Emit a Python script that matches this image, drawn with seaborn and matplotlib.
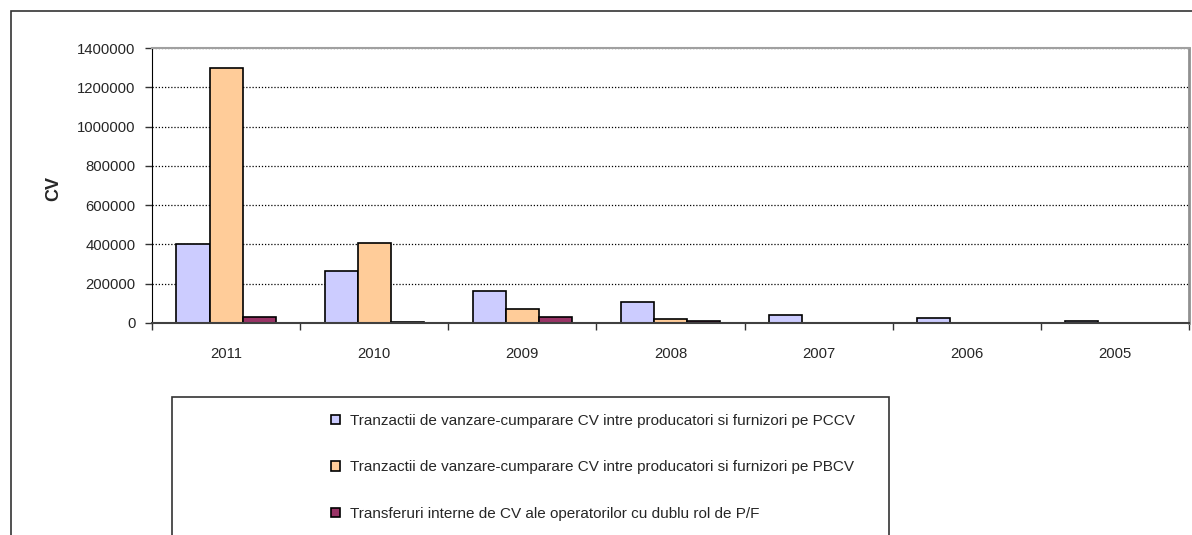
import pandas as pd
import seaborn as sns
import matplotlib.pyplot as plt
from matplotlib import font_manager
from matplotlib.patches import Rectangle
from matplotlib.ticker import FixedLocator, NullFormatter

# data
years = ["2011", "2010", "2009", "2008", "2007", "2006", "2005"]
pccv = [400000, 265000, 163000, 108000, 43000, 24000, 8500]
pbcv = [1300000, 407000, 70000, 22000, 0, 0, 0]
transfer = [31000, 3000, 31000, 8500, 0, 0, 0]
series_names = [
    "Tranzactii de vanzare-cumparare CV intre producatori si furnizori pe PCCV",
    "Tranzactii de vanzare-cumparare CV intre producatori si furnizori pe PBCV",
    "Transferuri interne de CV ale operatorilor cu dublu rol de P/F",
]
colors = ["#CCCCFF", "#FFCC99", "#993366"]

df = pd.DataFrame({
    "an": years * 3,
    "CV": pccv + pbcv + transfer,
    "serie": [series_names[0]] * 7 + [series_names[1]] * 7 + [series_names[2]] * 7,
})

sns.set_style("white")

# the original text looks horizontally squeezed -> narrow font if we have one
installed = {f.name for f in font_manager.fontManager.ttflist}
if "Liberation Sans Narrow" in installed:
    plt.rcParams["font.family"] = ["Liberation Sans Narrow", "DejaVu Sans"]
    fs = 12.8
    leg_fs = 13.2
else:
    plt.rcParams["font.family"] = ["Liberation Sans", "DejaVu Sans"]
    fs = 10.7
    leg_fs = 11

W, H = 1192, 535
fig = plt.figure(figsize=(W / 100, H / 100), dpi=100)
ax = fig.add_axes([152 / W, 1 - 323 / H, (1189 - 152) / W, (323 - 48) / H])

sns.barplot(data=df, x="an", y="CV", hue="serie", order=years, hue_order=series_names,
            palette=colors, width=0.67, edgecolor="black", linewidth=1.2,
            saturation=1, ax=ax, legend=True)

ax.set_ylim(0, 1400000)
ax.set_xlim(-0.5, 6.5)
ax.set_yticks(range(0, 1400001, 200000))
ax.set_yticklabels([str(v) for v in range(0, 1400001, 200000)], fontsize=fs)
ax.yaxis.grid(True, linestyle=(0, (1, 1.5)), color="black", linewidth=0.9)
ax.set_axisbelow(True)

# category boundaries as major ticks, labels centered as minor ticks
ax.xaxis.set_major_locator(FixedLocator([i - 0.5 for i in range(8)]))
ax.xaxis.set_major_formatter(NullFormatter())
ax.xaxis.set_minor_locator(FixedLocator(range(7)))
ax.set_xticklabels(years, minor=True, fontsize=fs)
ax.tick_params(axis="x", which="major", direction="out", length=5, width=1, color="#333333", bottom=True)
ax.tick_params(axis="x", which="minor", length=0, pad=17, bottom=True)
ax.tick_params(axis="y", direction="out", length=5, width=1, color="#333333", left=True, pad=7)

ax.set_xlabel("")
ax.set_ylabel("CV", fontsize=13, fontweight="bold", family=["Liberation Sans", "DejaVu Sans"])
ax.yaxis.set_label_coords((62 - 152) / 1037, 0.49)

ax.spines["left"].set_color("black")
ax.spines["bottom"].set_color("#404040")
ax.spines["bottom"].set_linewidth(1.5)
ax.spines["top"].set_color("#a0a0a0")
ax.spines["right"].set_color("#909090")
ax.spines["top"].set_linewidth(1.5)
ax.spines["right"].set_linewidth(2)

handles, labels = ax.get_legend_handles_labels()
ax.get_legend().remove()

# outer chart border and legend box
fig.patches.append(Rectangle((11 / W, -0.1), 1.2, 1.1 - 11 / H, transform=fig.transFigure,
                             fill=False, edgecolor="#333333", linewidth=1.2))
fig.patches.append(Rectangle((172 / W, -0.1), 717 / W, 0.1 + 1 - 397 / H, transform=fig.transFigure,
                             fill=False, edgecolor="#333333", linewidth=1.2))

F = leg_fs * 100 / 72  # legend font size in pixels
fig.legend(handles, labels, loc="upper left",
           bbox_to_anchor=((331 - 0.4 * F) / W, 1 - (421 - 0.875 * F) / H),
           frameon=False, fontsize=leg_fs, handlelength=9 / F, handleheight=9 / F,
           handletextpad=10 / F, labelspacing=(47 - 0.95 * F) / F, borderaxespad=0)

fig.savefig("out.png", dpi=100)
